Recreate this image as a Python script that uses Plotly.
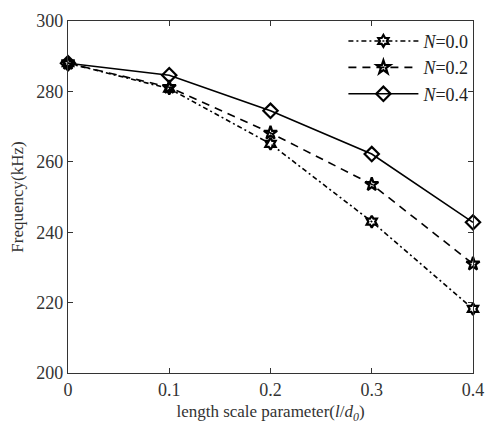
import plotly.graph_objects as go

# length scale parameter values and natural frequencies (kHz)
scale_param = [0.0, 0.1, 0.2, 0.3, 0.4]
freq_n00 = [288.0, 280.8, 265.1, 243.0, 218.2]
freq_n02 = [288.0, 281.2, 268.2, 253.6, 231.0]
freq_n04 = [288.0, 284.6, 274.5, 262.2, 242.8]

series_names = ["<i>N</i>=0.0", "<i>N</i>=0.2", "<i>N</i>=0.4"]
x_ticks = [0, 0.1, 0.2, 0.3, 0.4]
x_tick_text = ["0", "0.1", "0.2", "0.3", "0.4"]
y_ticks = [200, 220, 240, 260, 280, 300]

FONT = "Liberation Serif, Times New Roman, serif"

styles = [
    dict(dash="5px,3px,2px,3px", symbol="hexagram-open", size=9),
    dict(dash="8px,6px", symbol="star-open", size=10),
    dict(dash="solid", symbol="diamond-open", size=11),
]

fig = go.Figure()
for name, ys, st in zip(series_names, [freq_n00, freq_n02, freq_n04], styles):
    fig.add_trace(go.Scatter(
        x=scale_param, y=ys, name=name, mode="lines+markers",
        line=dict(color="black", width=1.6, dash=st["dash"]),
        marker=dict(symbol=st["symbol"], size=st["size"], color="black",
                    line=dict(color="black", width=2.2)),
        cliponaxis=False,
    ))

axis_common = dict(
    showline=True, linecolor="#333", linewidth=1.2, mirror="ticks",
    ticks="inside", ticklen=5, tickcolor="#333", tickwidth=1,
    showgrid=False, zeroline=False,
    tickfont=dict(family=FONT, size=18, color="#333"),
)

fig.update_layout(
    width=495, height=432,
    margin=dict(l=68, r=11, t=14, b=59),
    paper_bgcolor="white", plot_bgcolor="white",
    font=dict(family=FONT, size=17, color="#333"),
    showlegend=True,
    legend=dict(
        x=0.68, y=0.995, xanchor="left", yanchor="top",
        bgcolor="rgba(0,0,0,0)", borderwidth=0,
        font=dict(family=FONT, size=18, color="#222"),
        itemwidth=70, tracegroupgap=0,
    ),
    xaxis=dict(
        range=[0, 0.4], tickvals=x_ticks, ticktext=x_tick_text,
        title=dict(text="length scale parameter(<i>l</i>/<i>d</i><sub><i>0</i></sub>)",
                   font=dict(family=FONT, size=17, color="#333"), standoff=6),
        **axis_common,
    ),
    yaxis=dict(
        range=[200, 300], tickvals=y_ticks,
        title=dict(text="Frequency(kHz)",
                   font=dict(family=FONT, size=17, color="#333"), standoff=8),
        **axis_common,
    ),
)

fig.write_html("out.html")
